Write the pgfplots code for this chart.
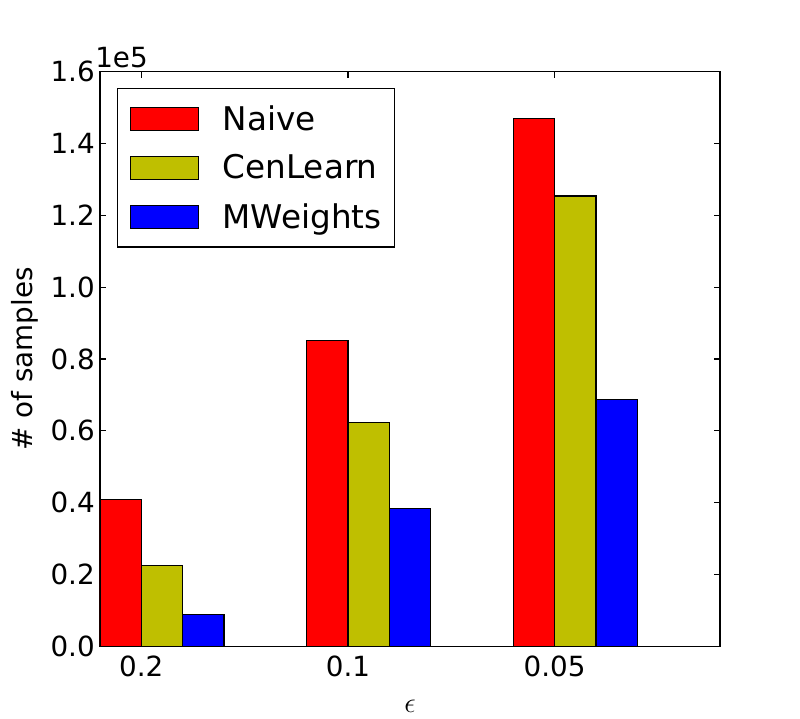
\documentclass[border=0pt]{standalone}
\usepackage{fontspec}
\setmainfont{DejaVu Sans}
\usepackage{pgfplots}
\pgfplotsset{compat=1.18}
\definecolor{myred}{RGB}{255,0,0}
\definecolor{myyel}{RGB}{191,191,0}
\definecolor{myblue}{RGB}{0,0,255}
\begin{document}
\begin{tikzpicture}
\path[use as bounding box] (-72pt,-51.7pt) rectangle (504pt,465.27pt);
\begin{axis}[
  at={(0,0)}, anchor=south west,
  scale only axis, width=446.4pt, height=413.57pt,
  clip mode=individual,
  xmin=0, xmax=3, ymin=0, ymax=160000,
  xtick={0.2,1.2,2.2}, xticklabels={0.2,0.1,0.05},
  ytick={0,20000,40000,60000,80000,100000,120000,140000,160000},
  yticklabels={0.0,0.2,0.4,0.6,0.8,1.0,1.2,1.4,1.6},
  scaled y ticks=false,
  tick align=inside, major tick length=4.3pt,
  tick style={black, line width=0.8pt},
  axis line style={line width=1pt},
  ticklabel style={font=\fontsize{20}{24}\selectfont},
  xticklabel style={inner sep=0pt, anchor=north, yshift=-6.5pt},
  yticklabel style={inner sep=0pt, anchor=east, xshift=-3.6pt},
  ylabel={\# of samples},
  ylabel style={font=\fontsize{20}{24}\selectfont, at={(axis description cs:-0.121,0.5)}, anchor=center, rotate=0},
  xlabel={$\epsilon$},
  xlabel style={font=\fontsize{21}{25}\selectfont, inner sep=0pt, at={(axis description cs:0.5,-0.1158)}, anchor=base},
  legend style={at={(rel axis cs:0,1)}, anchor=north west, xshift=12.2pt, yshift=-11.7pt,
    draw=black, line width=0.8pt, font=\fontsize{23.5}{28}\selectfont,
    inner xsep=9pt, inner ysep=12pt, row sep=16.2pt, column sep=17pt,
    nodes={inner sep=0pt}},
  legend cell align=left,
  legend image code/.code={\draw[#1, draw=black, line width=0.8pt] (0pt,-8.3pt) rectangle (49pt,8.3pt);},
]
\addplot[ybar, bar width=0.2, bar shift=0pt, fill=myred, draw=black, line width=0.8pt]
  coordinates {(0.1,40800) (1.1,85200) (2.1,147100)};
\addlegendentry{Naive}
\addplot[ybar, bar width=0.2, bar shift=0pt, fill=myyel, draw=black, line width=0.8pt]
  coordinates {(0.3,22400) (1.3,62300) (2.3,125400)};
\addlegendentry{CenLearn}
\addplot[ybar, bar width=0.2, bar shift=0pt, fill=myblue, draw=black, line width=0.8pt]
  coordinates {(0.5,8800) (1.5,38300) (2.5,68800)};
\addlegendentry{MWeights}
\end{axis}
\node[anchor=base west, inner sep=0pt, font=\fontsize{20}{24}\selectfont] at (-3.6pt,416.9pt) {1e5};
\end{tikzpicture}
\end{document}
